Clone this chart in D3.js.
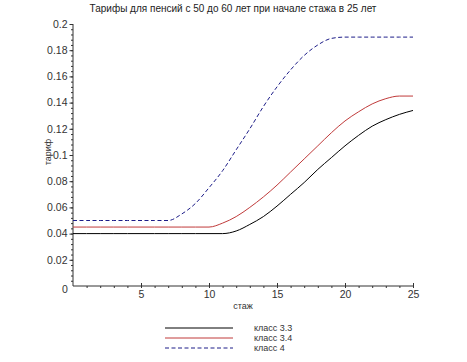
<!DOCTYPE html>
<html>
<head>
<meta charset="utf-8">
<script src="https://cdn.jsdelivr.net/npm/d3@7"></script>
<style>
  html, body { margin: 0; padding: 0; background: #fff; }
  svg { display: block; font-family: "Liberation Sans", Arial, sans-serif; }
</style>
</head>
<body>
<svg id="chart" width="467" height="362"></svg>
<script>
/* ---------- Data ---------- */
const title = "Тарифы для пенсий с 50 до 60 лет при начале стажа в 25 лет";
const xLabel = "стаж";
const yLabel = "тариф";

const stazh = [0,1,2,3,4,5,6,7,8,9,10,11,12,13,14,15,16,17,18,19,20,21,22,23,24,25];

const class33 = [0.040,0.040,0.040,0.040,0.040,0.040,0.040,0.040,0.040,0.040,0.040,0.040,
                 0.042,0.047,0.053,0.061,0.070,0.079,0.089,0.098,0.107,0.115,0.122,0.127,0.131,0.134];
const class34 = [0.045,0.045,0.045,0.045,0.045,0.045,0.045,0.045,0.045,0.045,0.045,
                 0.048,0.053,0.060,0.068,0.077,0.087,0.097,0.107,0.117,0.126,0.133,0.139,0.143,0.145,0.145];
const class4  = [0.050,0.050,0.050,0.050,0.050,0.050,0.050,0.050,
                 0.055,0.063,0.075,0.088,0.104,0.120,0.137,0.152,0.165,0.176,0.184,0.189,0.190,0.190,0.190,0.190,0.190,0.190];

const seriesNames = ["класс 3.3", "класс 3.4", "класс 4"];
const seriesColors = ["#000000", "#c03a3a", "#1c1c88"];
const seriesDash = [null, null, "4,2.5"];

const xTicks = [5, 10, 15, 20, 25];
const yTicks = [0.02, 0.04, 0.06, 0.08, 0.1, 0.12, 0.14, 0.16, 0.18, 0.2];

/* ---------- Layout ---------- */
const svg = d3.select("#chart");
const plotL = 73, plotR = 413, plotT = 24, plotB = 286;

const x = d3.scaleLinear().domain([0, 25]).range([plotL, plotR]);
const y = d3.scaleLinear().domain([0, 0.2]).range([plotB, plotT]);

// title
svg.append("text")
  .attr("x", 233).attr("y", 12)
  .attr("text-anchor", "middle")
  .attr("font-size", "10px")
  .attr("fill", "#222")
  .text(title);

/* ---------- Axes ---------- */
const gx = svg.append("g").attr("transform", `translate(0,${plotB})`);
gx.call(d3.axisBottom(x).tickValues(d3.range(1, 26)).tickSize(2).tickFormat(""));
gx.call(g => g.select(".domain").attr("d", `M${plotL},0H${plotR}`));
const gxMajor = svg.append("g").attr("transform", `translate(0,${plotB})`);
gxMajor.call(d3.axisTop(x).tickValues(xTicks).tickSize(3).tickFormat(""));
gxMajor.select(".domain").remove();
svg.append("g").attr("transform", `translate(0,${plotB + 1})`)
  .call(d3.axisBottom(x).tickValues(xTicks).tickSize(0).tickPadding(4).tickFormat(d3.format("d")))
  .call(g => g.select(".domain").remove())
  .selectAll("text").attr("font-size", "10.5px").attr("fill", "#333");

const gy = svg.append("g").attr("transform", `translate(${plotL},0)`);
gy.call(d3.axisLeft(y).tickValues(d3.range(0.004, 0.2001, 0.004)).tickSize(2).tickFormat(""));
gy.call(g => g.select(".domain").attr("d", `M0,${plotT}V${plotB}`));
svg.append("g").attr("transform", `translate(${plotL},0)`)
  .call(d3.axisLeft(y).tickValues(yTicks).tickSize(3.5).tickPadding(2).tickFormat(d => String(+d.toFixed(2))))
  .call(g => g.select(".domain").remove())
  .selectAll("text").attr("font-size", "10.5px").attr("fill", "#333");

// "0" at the corner
svg.append("text")
  .attr("x", 65).attr("y", plotB + 7)
  .attr("text-anchor", "middle")
  .attr("font-size", "10.5px").attr("fill", "#333")
  .text("0");

svg.selectAll(".tick line, .domain").attr("stroke", "#333").attr("stroke-width", 1);

// axis titles
svg.append("text")
  .attr("x", 243).attr("y", 309)
  .attr("text-anchor", "middle")
  .attr("font-size", "9px").attr("fill", "#333")
  .text(xLabel);
svg.append("text")
  .attr("transform", "translate(51,152) rotate(-90)")
  .attr("text-anchor", "middle")
  .attr("font-size", "9px").attr("fill", "#333")
  .text(yLabel);

/* ---------- Lines ---------- */
const allSeries = [class33, class34, class4];
const line = d3.line()
  .x((d, i) => x(stazh[i]))
  .y(d => y(d))
  .curve(d3.curveMonotoneX);

allSeries.forEach((vals, i) => {
  svg.append("path")
    .datum(vals)
    .attr("fill", "none")
    .attr("stroke", seriesColors[i])
    .attr("stroke-width", 1)
    .attr("stroke-dasharray", seriesDash[i])
    .attr("d", line);
});

/* ---------- Legend ---------- */
const legY = [328, 338, 348];
seriesNames.forEach((name, i) => {
  svg.append("line")
    .attr("x1", 165).attr("x2", 233)
    .attr("y1", legY[i]).attr("y2", legY[i])
    .attr("stroke", seriesColors[i])
    .attr("stroke-width", 1)
    .attr("stroke-dasharray", seriesDash[i]);
  svg.append("text")
    .attr("x", 254).attr("y", legY[i] + 3.2)
    .attr("font-size", "9px").attr("fill", "#333")
    .text(name);
});
</script>
</body>
</html>
